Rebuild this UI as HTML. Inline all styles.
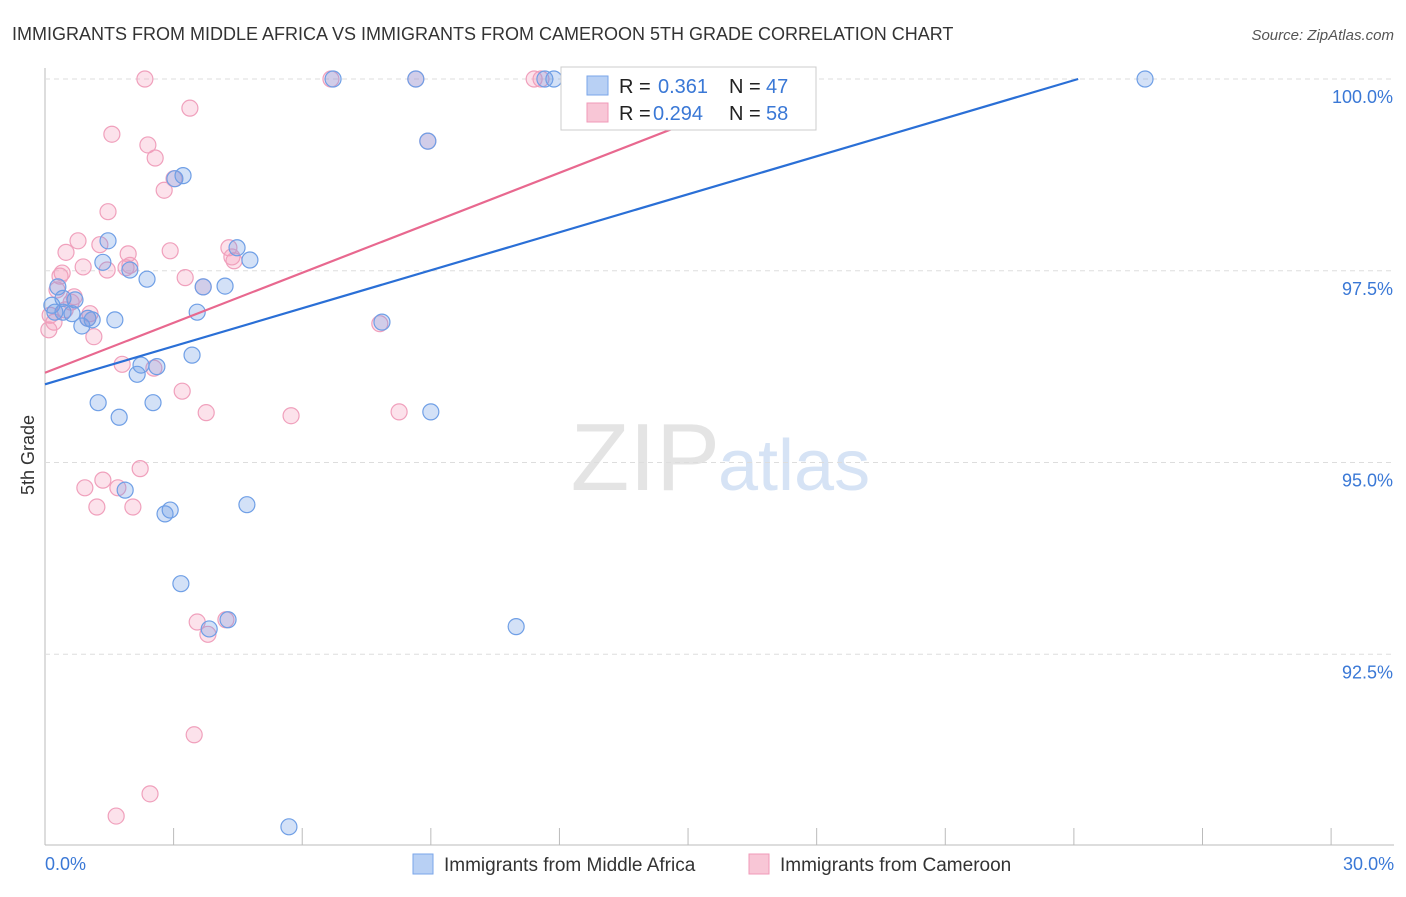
<!DOCTYPE html>
<html><head><meta charset="utf-8"><style>
body{margin:0;background:#fff;font-family:"Liberation Sans",sans-serif;}
svg text{font-family:"Liberation Sans",sans-serif;}
</style></head><body>
<svg id="chart" width="1406" height="892" xmlns="http://www.w3.org/2000/svg">
<text x="12" y="40" font-size="18" fill="#333">IMMIGRANTS FROM MIDDLE AFRICA VS IMMIGRANTS FROM CAMEROON 5TH GRADE CORRELATION CHART</text>
<text x="1394" y="40" font-size="15" fill="#555" text-anchor="end" font-style="italic">Source: ZipAtlas.com</text>
<text x="720" y="490" font-size="96" fill="#e4e4e4" text-anchor="end" font-family="Liberation Serif">ZIP</text>
<text x="718" y="490" font-size="72" fill="#d6e3f5">atlas</text>
<text transform="translate(34,455) rotate(-90)" font-size="18" fill="#333" text-anchor="middle">5th Grade</text>
<g id="grid"></g>
<g id="marks"></g>
<g id="lines"></g>
<g>
<rect x="561" y="67" width="255" height="63" fill="#fff" stroke="#ccc"/>
<rect x="587" y="76" width="21" height="19" fill="#b8d0f4" stroke="#7aa6ea"/>
<rect x="587" y="103" width="21" height="19" fill="#f8c6d6" stroke="#f09ab8"/>
<text x="619" y="93" font-size="20" fill="#222">R = </text><text x="658" y="93" font-size="20" fill="#3a78d6">0.361</text>
<text x="729" y="93" font-size="20" fill="#222">N = </text><text x="766" y="93" font-size="20" fill="#3a78d6">47</text>
<text x="619" y="120" font-size="20" fill="#222">R = </text><text x="653" y="120" font-size="20" fill="#3a78d6">0.294</text>
<text x="729" y="120" font-size="20" fill="#222">N = </text><text x="766" y="120" font-size="20" fill="#3a78d6">58</text>
</g>
<g>
<rect x="413" y="854" width="20" height="20" fill="#b8d0f4" stroke="#7aa6ea"/>
<text x="444" y="871" font-size="19" fill="#333">Immigrants from Middle Africa</text>
<rect x="749" y="854" width="20" height="20" fill="#f8c6d6" stroke="#f09ab8"/>
<text x="780" y="871" font-size="19" fill="#333">Immigrants from Cameroon</text>
</g>
</svg>
<script>
const blueX=[6.72,8.65,11.66,11.87,14.51,25.66,8.93,3.22,3.03,1.47,4.48,4.78,1.35,1.98,2.38,4.20,3.69,0.30,0.42,0.70,3.55,1.63,1.00,1.10,0.86,0.23,7.86,3.43,2.24,2.61,2.15,1.24,2.52,9.00,1.73,1.87,2.92,2.80,4.71,3.17,4.27,3.83,10.99,5.69,0.63,0.16,0.42];
const blueY=[100,100,100,100,100,100,99.19,98.74,98.70,97.89,97.80,97.64,97.61,97.51,97.39,97.30,97.29,97.29,97.14,97.12,96.96,96.86,96.88,96.86,96.78,96.96,96.83,96.40,96.27,96.25,96.15,95.78,95.78,95.66,95.59,94.64,94.38,94.33,94.45,93.42,92.95,92.83,92.86,90.25,96.94,97.05,96.96];
const pinkX=[2.33,6.67,8.65,11.41,11.57,3.38,1.56,2.40,2.57,2.78,3.01,1.47,0.77,1.28,0.49,1.94,2.92,4.29,4.41,0.89,1.98,0.40,0.35,1.45,1.89,3.27,3.69,0.68,1.05,0.47,0.12,0.09,1.14,1.80,2.54,3.20,3.76,5.74,8.26,7.81,2.22,1.35,0.93,1.70,1.21,2.05,3.55,4.22,3.80,3.48,2.45,1.66,1.00,0.61,0.21,0.28,4.36,8.93];
const pinkY=[100,100,100,100,100,99.62,99.28,99.14,98.97,98.55,98.70,98.27,97.89,97.84,97.74,97.72,97.76,97.80,97.63,97.55,97.57,97.47,97.43,97.51,97.54,97.41,97.29,97.16,96.94,96.99,96.92,96.73,96.64,96.28,96.23,95.93,95.65,95.61,95.66,96.81,94.92,94.77,94.67,94.67,94.42,94.42,92.92,92.95,92.76,91.45,90.68,90.39,96.88,97.09,96.83,97.25,97.68,99.19];
const blueTrend=[[0,96.02],[24.1,100]];
const pinkTrend=[[0,96.17],[15.28,99.49]];
const yTicks=[100,97.5,95,92.5];
const yTickLabels=["100.0%","97.5%","95.0%","92.5%"];
const xTicks=[0,3,6,9,12,15,18,21,24,27,30];
const xLabels=[[0,"0.0%"],[30,"30.0%"]];
const NS="http://www.w3.org/2000/svg";
const X=v=>45+v*42.87, Y=v=>79+(100-v)*76.7;
function mk(p,t,a){const e=document.createElementNS(NS,t);for(const k in a)e.setAttribute(k,a[k]);p.appendChild(e);return e;}
const grid=document.getElementById('grid'),marks=document.getElementById('marks'),lines=document.getElementById('lines');
const ax=mk(grid,'line',{x1:45,y1:68,x2:45,y2:845,stroke:'#bbb'});


const bx=mk(grid,'line',{x1:45,y1:845,x2:1394,y2:845,stroke:'#bbb'});


yTicks.forEach((v,i)=>{
 const g=mk(grid,'line',{x1:45,y1:Y(v),x2:1394,y2:Y(v),stroke:'#ddd','stroke-dasharray':'5,4'});
 
 
 const t=mk(grid,'text',{x:1393,y:Y(v)+24,'font-size':18,fill:'#3a78d6','text-anchor':'end'});t.textContent=yTickLabels[i];
 
 
});
xTicks.forEach(v=>{
 const l=mk(grid,'line',{x1:X(v),y1:828,x2:X(v),y2:845,stroke:'#bbb'});
 
 
});
xLabels.forEach(([v,s],i)=>{
 const t=mk(grid,'text',{x:i?X(v)+63:X(v),y:870,'font-size':18,fill:'#3a78d6','text-anchor':i?'end':'start'});t.textContent=s;
 
 
});
function pts(xs,ys,fill,stroke,name){xs.forEach((x,i)=>{
 const c=mk(marks,'circle',{cx:X(x),cy:Y(ys[i]),r:8,fill:fill,stroke:stroke,'stroke-width':1.2});
 
 
});}
pts(pinkX,pinkY,'rgba(244,160,190,0.3)','#f0a0bc','cameroon-point');
pts(blueX,blueY,'rgba(110,155,230,0.3)','#6f9fe6','middle-africa-point');
const bl=mk(lines,'line',{x1:X(blueTrend[0][0]),y1:Y(blueTrend[0][1]),x2:X(blueTrend[1][0]),y2:Y(blueTrend[1][1]),stroke:'#2a6fd6','stroke-width':2.2});


const pl=mk(lines,'line',{x1:X(pinkTrend[0][0]),y1:Y(pinkTrend[0][1]),x2:X(pinkTrend[1][0]),y2:Y(pinkTrend[1][1]),stroke:'#e8688f','stroke-width':2.2});


</script>
</body></html>
